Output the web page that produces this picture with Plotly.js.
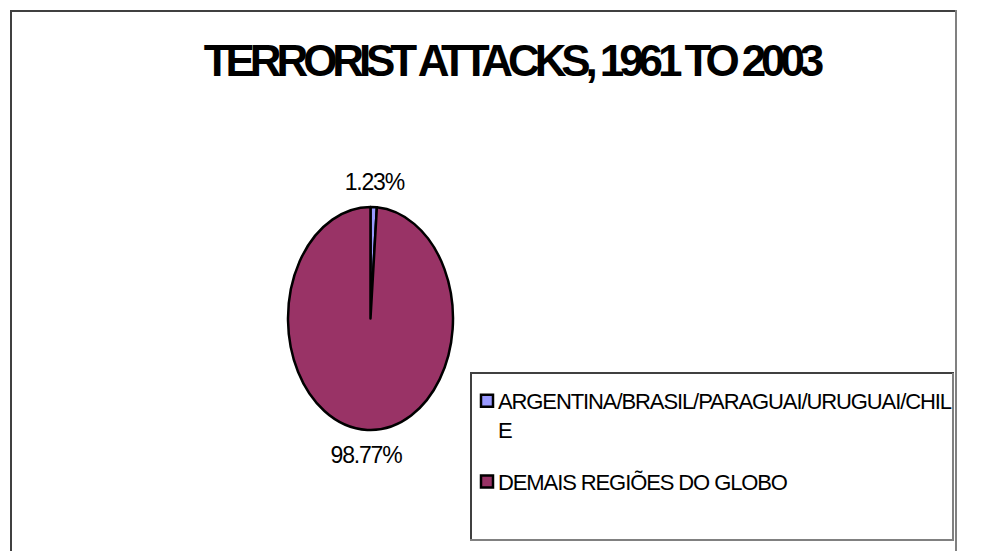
<!DOCTYPE html>
<html>
<head>
<meta charset="utf-8">
<script src="https://cdn.plot.ly/plotly-3.0.1.min.js"></script>
<style>
  html, body { margin: 0; padding: 0; background: #fff; }
  #chart { width: 996px; height: 551px; }
  .gtitle { letter-spacing: -5.1px; }
  .legendtext { letter-spacing: -1.1px; }
  .slicetext { letter-spacing: -1.2px; }
</style>
</head>
<body>
<div id="chart"></div>
<script>
// ---- data ----
const categories = [
  "ARGENTINA/BRASIL/PARAGUAI/URUGUAI/CHIL<br>E<br> ",
  "DEMAIS REGIÕES DO GLOBO"
];
const shares = [1.23, 98.77];
const sliceColors = ["#9999FF", "#993366"];
const chartTitle = "TERRORIST ATTACKS, 1961 TO 2003";

// ---- layout helpers (pixel -> paper, margins are zero) ----
const W = 996, H = 551;
const px = x => x / W;
const py = y => 1 - y / H;

const pieCx = 370.5, pieCy = 318.5, pieRy = 111.5, pieRx = 82.5;
const labelGap = 25;

const trace = {
  type: "pie",
  labels: categories,
  values: shares,
  sort: false,
  direction: "clockwise",
  rotation: 0,
  marker: { colors: sliceColors, line: { color: "#000000", width: 2.5 } },
  textposition: "outside",
  texttemplate: "%{percent:.2%}",
  textfont: { family: "Liberation Sans, Arial, sans-serif", size: 23, color: "#000" },
  domain: {
    x: [px(pieCx - 130), px(pieCx + 130)],
    y: [py(pieCy + pieRy), py(pieCy - pieRy)]
  },
  hoverinfo: "label+percent"
};

function hline(x0, x1, y, color) {
  return { type: "line", xref: "paper", yref: "paper", x0: px(x0), x1: px(x1), y0: py(y), y1: py(y),
           line: { color: color, width: 2 } };
}
function vline(x, y0, y1, color) {
  return { type: "line", xref: "paper", yref: "paper", x0: px(x), x1: px(x), y0: py(y0), y1: py(y1),
           line: { color: color, width: 2 } };
}

const layout = {
  width: W, height: H,
  margin: { l: 0, r: 0, t: 0, b: 0 },
  paper_bgcolor: "#ffffff",
  plot_bgcolor: "#ffffff",
  font: { family: "Liberation Sans, Arial, sans-serif", color: "#000" },
  title: {
    text: chartTitle,
    font: { family: "Liberation Sans, Arial, sans-serif", size: 44, weight: "bold", color: "#000" },
    x: px(511.5), xref: "paper", xanchor: "center",
    y: py(61), yref: "paper", yanchor: "middle"
  },
  showlegend: true,
  legend: {
    x: px(458), xanchor: "left",
    y: py(380), yanchor: "top",
    bgcolor: "rgba(0,0,0,0)",
    borderwidth: 0,
    valign: "top",
    font: { family: "Liberation Sans, Arial, sans-serif", size: 22, color: "#000" }
  },
  shapes: [
    // outer chart border
    vline(11, 10, 552, "#404040"),
    hline(10, 957, 11, "#404040"),
    vline(956, 10, 552, "#808080"),
    // legend box
    vline(471, 373, 541, "#404040"),
    hline(470, 954, 373, "#404040"),
    vline(953, 373, 541, "#808080"),
    hline(470, 954, 540, "#808080")
  ]
};

Plotly.newPlot("chart", [trace], layout, { displayModeBar: false, staticPlot: true }).then(gd => {
  // stretch the circular pie into the ellipse of the reference
  const sx = pieRx / pieRy;
  document.querySelectorAll(".pielayer path.surface").forEach(p => {
    p.setAttribute("transform",
      `translate(${pieCx},0) scale(${sx},1) translate(${-pieCx},0)`);
    p.setAttribute("vector-effect", "non-scaling-stroke");
    p.style.vectorEffect = "non-scaling-stroke";
  });
  // place the percentage labels just outside the ellipse, at each slice's mid-angle
  const total = shares.reduce((a, b) => a + b, 0);
  let cum = 0;
  const mids = shares.map(v => { const m = (cum + v / 2) / total; cum += v; return m * 2 * Math.PI; });
  document.querySelectorAll(".pielayer g.slice").forEach((g, i) => {
    const t = g.querySelector("text.slicetext");
    if (!t) return;
    const th = mids[i];
    const ex = pieCx + pieRx * Math.sin(th), ey = pieCy - pieRy * Math.cos(th);
    const wantX = ex + labelGap * Math.sin(th), wantY = ey - labelGap * Math.cos(th);
    const r = t.getBoundingClientRect();
    const dx = wantX - (r.left + r.width / 2), dy = wantY - (r.top + r.height / 2);
    t.setAttribute("transform", `translate(${dx},${dy}) ` + (t.getAttribute("transform") || ""));
  });
  // legend: symbols closer to the text, second entry a little higher
  document.querySelectorAll(".legend .legendpoints").forEach(p => p.setAttribute("transform", "translate(9,0)"));
  const items = document.querySelectorAll(".legend g.traces");
  if (items.length > 1) {
    items[1].setAttribute("transform", "translate(0,-8) " + (items[1].getAttribute("transform") || ""));
  }
});
</script>
</body>
</html>
